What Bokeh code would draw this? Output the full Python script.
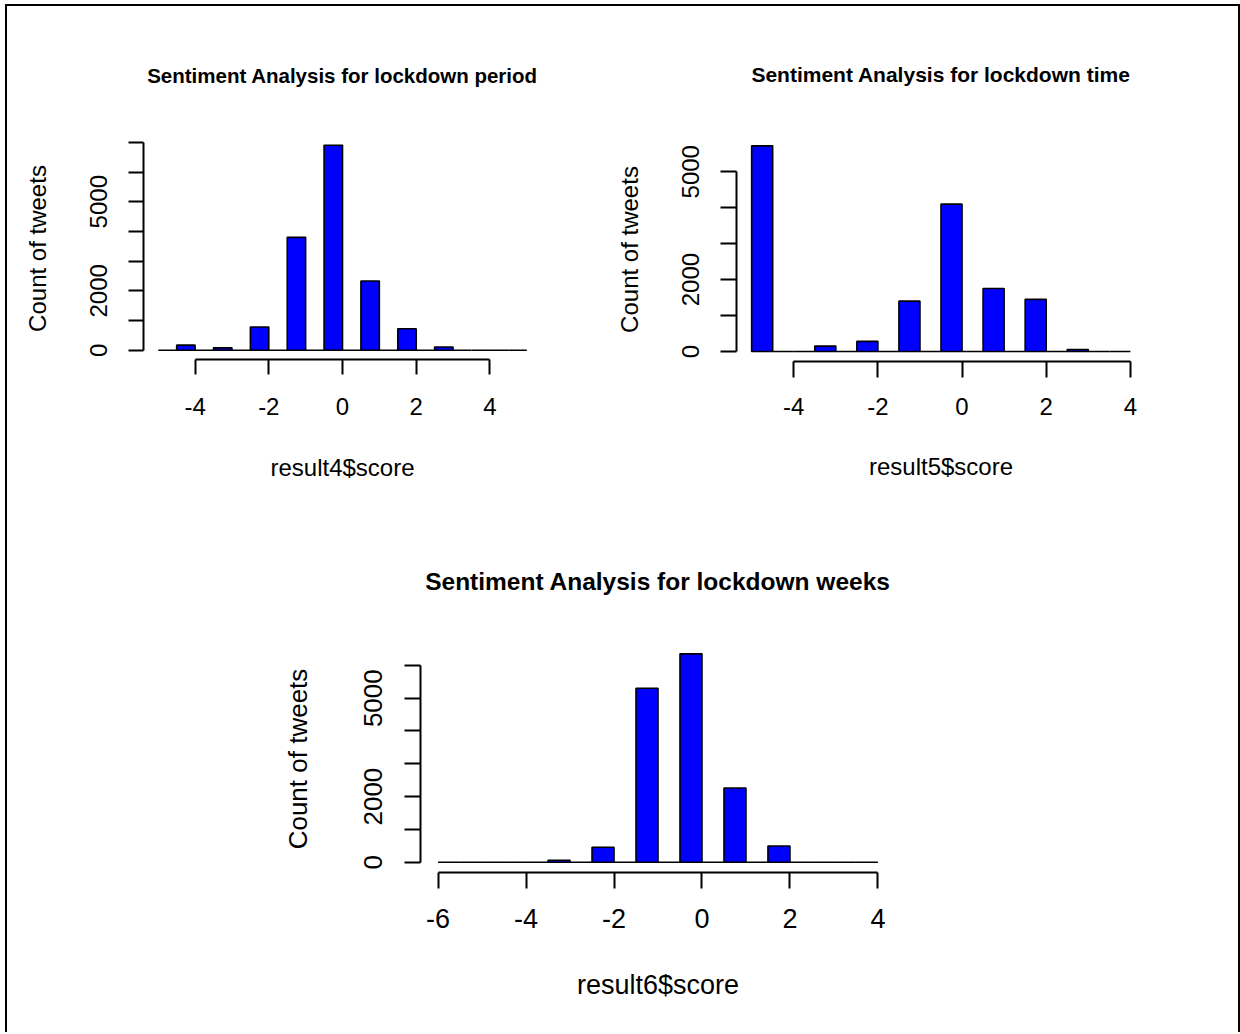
import numpy as np
from bokeh.plotting import figure
from bokeh.layouts import row, column
from bokeh.models import FixedTicker, Title, ColumnDataSource, Range1d
from bokeh.embed import file_html
from bokeh.resources import INLINE

# ---- data (histogram counts per sentiment score) ----
titles = ["Sentiment Analysis for lockdown period",
          "Sentiment Analysis for lockdown time",
          "Sentiment Analysis for lockdown weeks"]
xlabels = ["result4$score", "result5$score", "result6$score"]
ylabel = "Count of tweets"

scores4 = [-4, -3, -2, -1, 0, 1, 2, 3]
counts4 = [170, 80, 780, 3800, 6900, 2330, 720, 110]
breaks4 = [-5, 5]

scores5 = [-5, -3, -2, -1, 0, 1, 2, 3]
counts5 = [5720, 150, 280, 1400, 4100, 1750, 1450, 55]
breaks5 = [-5, 4]

scores6 = [-3, -2, -1, 0, 1, 2]
counts6 = [60, 455, 5300, 6350, 2260, 495]
breaks6 = [-6, 4]

xticks4 = [-4, -2, 0, 2, 4]
xticks5 = [-4, -2, 0, 2, 4]
xticks6 = [-6, -4, -2, 0, 2, 4]
yticks4 = [0, 1000, 2000, 3000, 4000, 5000, 6000, 7000]
yticks5 = [0, 1000, 2000, 3000, 4000, 5000]
yticks6 = [0, 1000, 2000, 3000, 4000, 5000, 6000]
ytick_labels = {0: "0", 2000: "2000", 5000: "5000"}

FONT = "Liberation Sans"
BIN = 0.5


def hist_source(scores, counts, lo, hi):
    edges = np.arange(lo, hi + BIN / 2, BIN)
    left, right = edges[:-1], edges[1:]
    top = np.zeros(len(left))
    for s, c in zip(scores, counts):
        if s == lo:
            i = 0
        else:
            i = int(np.argmin(np.abs(right - s)))
        top[i] = c
    return ColumnDataSource(dict(left=left, right=right, top=top, bottom=np.zeros(len(left))))


def panel(title, xlabel, scores, counts, brk, xticks, yticks, xr, yr,
          fw, fh, bl, bt, br, bb, fs_axis, fs_xaxis, fs_title, title_standoff,
          ystand, ylabstand, xstand, xlabstand, tick_out):
    p = figure(frame_width=fw, frame_height=fh, x_range=Range1d(*xr), y_range=Range1d(*yr),
               output_backend="svg", toolbar_location=None,
               min_border_left=bl, min_border_top=bt, min_border_right=br, min_border_bottom=bb,
               background_fill_color="white", border_fill_color="white")
    p.title = Title(text=title, text_font=FONT, text_font_size=fs_title, text_font_style="bold",
                    align="center", standoff=title_standoff, text_color="black")
    p.outline_line_color = None
    p.grid.visible = False
    src = hist_source(scores, counts, *brk)
    p.quad(left="left", right="right", top="top", bottom="bottom", source=src,
           fill_color="#0000FF", line_color="black", line_width=1.6)

    xa, ya = p.xaxis[0], p.yaxis[0]
    for ax in (xa, ya):
        ax.axis_line_width = 2
        ax.major_tick_line_width = 2
        ax.axis_line_color = "black"
        ax.major_tick_line_color = "black"
        ax.minor_tick_line_color = None
        ax.major_tick_in = 0
        ax.major_tick_out = tick_out
        ax.major_label_text_font = FONT
        ax.axis_label_text_font = FONT
        ax.axis_label_text_font_style = "normal"
        ax.major_label_text_color = "black"
        ax.axis_label_text_color = "black"
    xa.ticker = FixedTicker(ticks=xticks)
    xa.bounds = (xticks[0], xticks[-1])
    xa.major_label_overrides = {t: str(t) for t in xticks}
    xa.major_label_text_font_size = fs_xaxis
    xa.axis_label_text_font_size = fs_xaxis
    xa.axis_label = xlabel
    xa.major_label_standoff = xstand
    xa.axis_label_standoff = xlabstand

    ya.ticker = FixedTicker(ticks=yticks)
    ya.bounds = (yticks[0], yticks[-1])
    ya.major_label_overrides = {t: ytick_labels.get(t, "") for t in yticks}
    ya.major_label_orientation = "vertical"
    ya.major_label_text_font_size = fs_axis
    ya.axis_label_text_font_size = fs_axis
    ya.axis_label = ylabel
    ya.major_label_standoff = ystand
    ya.axis_label_standoff = ylabstand
    return p


# layout: border at top/left/right; content starts at x=7, y=6; width 1231
pA = panel(titles[0], xlabels[0], scores4, counts4, breaks4, xticks4, yticks4,
           (-5.4, 5.4), (-313, 7162),
           fw=398, fh=222, bl=136, bt=131, br=49, bb=151,
           fs_axis="24px", fs_xaxis="24px", fs_title="20.5px", title_standoff=102,
           ystand=21, ylabstand=37, xstand=23, xlabstand=36, tick_out=15)
pB = panel(titles[1], xlabels[1], scores5, counts5, breaks5, xticks5, yticks5,
           (-5.36, 4.36), (-279, 5953),
           fw=409, fh=224, bl=146, bt=128, br=93, bb=152,
           fs_axis="24px", fs_xaxis="24px", fs_title="21px", title_standoff=103,
           ystand=21, ylabstand=37, xstand=20, xlabstand=35, tick_out=16)
pC = panel(titles[2], xlabels[2], scores6, counts6, breaks6, xticks6, yticks6,
           (-6.4, 4.4), (-313, 6605),
           fw=475, fh=227, bl=413, bt=135, br=343, bb=160,
           fs_axis="26px", fs_xaxis="27px", fs_title="24.5px", title_standoff=101,
           ystand=22, ylabstand=49, xstand=20, xlabstand=39, tick_out=16)

layout = column(row(pA, pB, spacing=0), pC, spacing=0,
                styles={"border-top": "2px solid black", "border-left": "2px solid black",
                        "border-right": "2px solid black", "margin-left": "5px", "margin-top": "4px"})

open("out.html", "w").write(file_html(layout, INLINE))
